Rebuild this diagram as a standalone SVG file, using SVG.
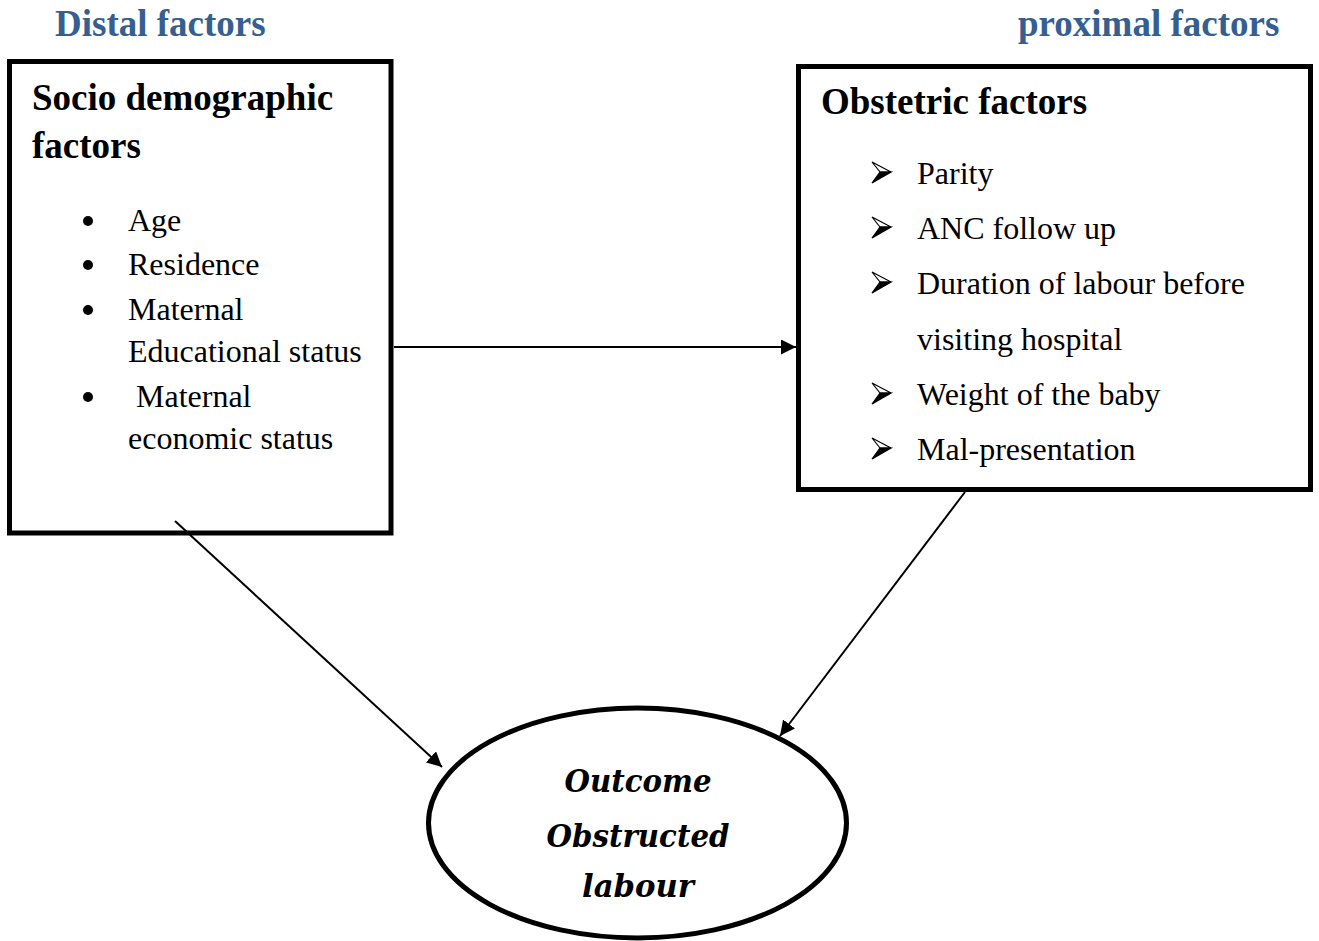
<svg xmlns="http://www.w3.org/2000/svg" width="1319" height="941" viewBox="0 0 1319 941">
<style>
.box{fill:#fff;stroke:#000;stroke-width:5}
.hdr{font-family:"Liberation Serif",serif;font-weight:bold;font-size:37px;fill:#365F91}
.ttl{font-family:"Liberation Serif",serif;font-weight:bold;font-size:37px;fill:#000}
.txt{font-family:"Liberation Serif",serif;font-size:32px;fill:#000}
.out{font-family:"DejaVu Serif",serif;font-weight:bold;font-style:italic;font-size:32px;fill:#000;text-anchor:middle}
.conn{stroke:#000;stroke-width:2;fill:none;marker-end:url(#ah)}
.arw{fill:#fff;stroke:#000;stroke-width:1.2;stroke-linejoin:miter}
</style>
<defs>
<marker id="ah" markerUnits="userSpaceOnUse" markerWidth="16" markerHeight="15" refX="15" refY="7.5" orient="auto">
<path d="M0,0 L15,7.5 L0,15 Z" fill="#000"/>
</marker>
<g id="bul">
<path class="arw" d="M-9,-11 L10,-1 L-1,-1 Z"/>
<path d="M-1,-1 L10,-1 L-9,10 Z" fill="#000" stroke="#000" stroke-width="1.2" stroke-linejoin="miter"/>
</g>
</defs>
<rect width="1319" height="941" fill="#fff"/>
<g id="labels">
<text class="hdr" x="55" y="36">Distal factors</text>
<text class="hdr" x="1018" y="36">proximal factors</text>
</g>
<g id="socio">
<rect class="box" x="9.5" y="61.5" width="381.5" height="471.5"/>
<text class="ttl" x="32" y="110">Socio demographic</text>
<text class="ttl" x="32" y="158">factors</text>
<circle cx="88" cy="221" r="5"/>
<circle cx="88" cy="265" r="5"/>
<circle cx="88" cy="310" r="5"/>
<circle cx="88" cy="397" r="5"/>
<text class="txt" x="128" y="231">Age</text>
<text class="txt" x="128" y="275">Residence</text>
<text class="txt" x="128" y="320">Maternal</text>
<text class="txt" x="128" y="362">Educational status</text>
<text class="txt" x="128" y="407" xml:space="preserve"> Maternal</text>
<text class="txt" x="128" y="449">economic status</text>
</g>
<g id="obstetric">
<rect class="box" x="798.5" y="66.5" width="512" height="423"/>
<text class="ttl" x="821" y="114">Obstetric factors</text>
<use href="#bul" x="881" y="173"/>
<use href="#bul" x="881" y="228"/>
<use href="#bul" x="881" y="283"/>
<use href="#bul" x="881" y="394"/>
<use href="#bul" x="881" y="449"/>
<text class="txt" x="917" y="184">Parity</text>
<text class="txt" x="917" y="239">ANC follow up</text>
<text class="txt" x="917" y="294">Duration of labour before</text>
<text class="txt" x="917" y="350">visiting hospital</text>
<text class="txt" x="917" y="405">Weight of the baby</text>
<text class="txt" x="917" y="460">Mal-presentation</text>
</g>
<g id="outcome">
<ellipse cx="637.5" cy="823" rx="209" ry="115" fill="#fff" stroke="#000" stroke-width="5"/>
<text class="out" x="638" y="792" textLength="147" lengthAdjust="spacingAndGlyphs">Outcome</text>
<text class="out" x="638" y="847" textLength="183" lengthAdjust="spacingAndGlyphs">Obstructed</text>
<text class="out" x="638" y="897" textLength="112" lengthAdjust="spacingAndGlyphs">labour</text>
</g>
<g id="connectors">
<line class="conn" x1="394" y1="347" x2="796" y2="347"/>
<line class="conn" x1="175" y1="521" x2="442" y2="767"/>
<line class="conn" x1="965" y1="492" x2="780" y2="736"/>
</g>
</svg>
